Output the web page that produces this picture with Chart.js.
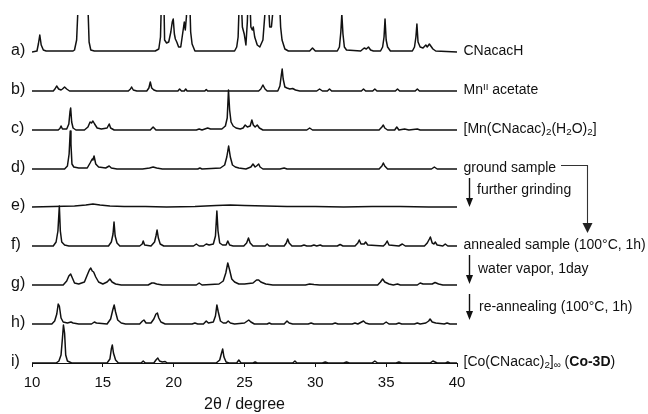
<!DOCTYPE html>
<html>
<head>
<meta charset="utf-8">
<script src="https://cdn.jsdelivr.net/npm/chart.js@4.4.1/dist/chart.umd.min.js"></script>
<style>
  body { margin: 0; background: #fff; }
  #wrap { position: relative; width: 648px; height: 414px; font-family: "Liberation Sans", Arial, sans-serif; color: #111; }
  .lbl { position: absolute; white-space: nowrap; line-height: 1; font-size: 14px; }
  .tag { font-size: 16px; }
  sub, sup { font-size: 70%; line-height: 0; }
  sup { vertical-align: 0.45em; }
  sub { vertical-align: -0.2em; }
</style>
</head>
<body>
<div id="wrap">
  <canvas id="xrd" width="648" height="414"></canvas>
</div>
<script>
// values: [2theta, intensity above the trace baseline]
const xTicks = [10, 15, 20, 25, 30, 35, 40]
const tags = ['a)', 'b)', 'c)', 'd)', 'e)', 'f)', 'g)', 'h)', 'i)']
const names = [
  'CNacacH',
  'Mn<sup>II</sup> acetate',
  '[Mn(CNacac)<sub>2</sub>(H<sub>2</sub>O)<sub>2</sub>]',
  'ground sample',
  '',
  'annealed sample (100°C, 1h)',
  '',
  '',
  '[Co(CNacac)<sub>2</sub>]<sub>∞</sub> (<b>Co-3D</b>)'
]
const steps = ['further grinding', 'water vapor, 1day', 're-annealing (100°C, 1h)']
const offsets = [311, 272, 233, 194, 156, 117, 78, 39, 0]

const traceA = [[10,0],[10.35,1],[10.45,8],[10.55,17],[10.65,7],[10.8,2],[11,1],[12.9,1],[13.0,2],[13.15,12],[13.25,45],[13.4,90],
  [13.6,100],[13.8,90],[13.95,45],[14.03,10],[14.15,2],[14.4,1],[18.7,1],[18.95,3],[19.07,15],[19.15,60],[19.22,70],[19.3,60],
  [19.36,12],[19.5,9],[19.65,10],[19.8,20],[19.9,30],[19.97,33],[20.05,18],[20.12,13],[20.22,10],[20.35,5],[20.5,5],[20.6,15],
  [20.75,30],[20.82,22],[20.9,35],[20.97,60],[21.05,70],[21.12,60],[21.2,20],[21.3,8],[21.5,1],[24.3,1],[24.45,5],[24.55,15],
  [24.65,60],[24.75,60],[24.85,25],[24.98,18],[25.1,7],[25.2,30],[25.28,65],[25.36,60],[25.45,25],[25.55,22],[25.62,25],
  [25.72,15],[25.9,7],[26.08,5],[26.3,12],[26.45,40],[26.55,70],[26.65,60],[26.78,25],[26.9,25],[27.0,40],[27.1,65],[27.3,75],
  [27.45,60],[27.55,25],[27.65,12],[27.85,3],[28.1,1],[29.6,1],[29.8,4],[30.0,1],[31.55,1],[31.7,5],[31.8,20],[31.87,38],
  [31.95,18],[32.05,5],[32.2,2],[33.2,1],[33.45,4],[33.6,3],[33.75,5],[33.9,2],[34.1,1],[34.6,1],[34.75,5],[34.85,15],
  [34.92,33],[35.0,12],[35.1,5],[35.3,1],[36.85,1],[37.0,5],[37.1,15],[37.17,28],[37.25,10],[37.4,5],[37.6,4],[37.8,7],
  [37.9,5],[38.05,8],[38.15,6],[38.3,3],[38.5,1],[40,0]]

const traceB = [[10,0],[11.5,0],[11.62,2],[11.74,5],[11.88,2],[12.05,1],[12.15,2],[12.3,4],[12.45,2],[12.65,0],[16.8,0],[16.95,2],
  [17.03,4],[17.15,1],[17.4,0],[18.1,0],[18.25,3],[18.35,9],[18.45,3],[18.6,1],[18.8,0],[20.3,0],[20.42,2],[20.55,0],[20.75,0],
  [20.85,2],[20.95,0],[22.2,0],[22.3,1.5],[22.4,0],[26.0,0],[26.15,2],[26.3,6],[26.45,2],[26.6,0],[27.35,0],[27.5,5],[27.6,16],
  [27.66,22],[27.73,12],[27.85,4],[28.0,3],[28.2,2],[28.4,2.5],[28.6,1],[28.9,0],[30.1,0],[30.3,2],[30.5,0],[30.85,0],[31.0,2],
  [31.15,0],[33.25,0],[33.4,2],[33.55,0],[34.05,0],[34.2,2],[34.35,0],[35.65,0],[35.8,2],[35.95,0],[37.05,0],[37.2,2],[37.35,0],[40,0]]

const traceC = [[10,0],[11.85,0],[11.97,1.5],[12.05,4],[12.15,1],[12.45,1],[12.6,6],[12.68,18],[12.73,22],[12.8,8],[12.9,2],[13.1,0],
  [13.7,0],[13.95,3],[14.1,8],[14.2,7],[14.3,9],[14.42,6],[14.6,2],[14.9,1],[15.3,2],[15.45,6],[15.55,2],[15.8,0],[18.35,0],
  [18.55,3],[18.75,0],[21.6,0],[21.8,1],[22.0,0],[22.2,1],[22.4,2],[22.6,1],[23.4,1],[23.65,4],[23.78,12],[23.87,40],[23.95,20],
  [24.05,8],[24.2,4],[24.4,2],[24.7,1],[24.9,2],[25.05,5],[25.2,3],[25.4,4],[25.52,10],[25.62,5],[25.75,3],[25.9,5],[26.05,2],
  [26.3,0],[29.4,0],[29.6,2],[29.8,0],[34.5,0],[34.7,3],[34.8,5],[34.9,2],[35.1,0],[35.6,0],[35.75,3],[35.9,0],[36.3,1],
  [36.6,0],[37.2,1],[37.4,0],[40,0]]

const traceD = [[10,0],[12.3,0],[12.5,3],[12.62,15],[12.7,38],[12.75,25],[12.82,5],[12.95,2],[13.3,1],[13.9,1],[14.1,6],[14.25,10],
  [14.3,9],[14.38,13],[14.5,5],[14.7,2],[15.2,1],[15.45,3],[15.6,1],[16.0,0],[17.8,0],[18.3,1],[18.55,2],[18.8,1],[19.2,0],
  [21.7,0],[21.85,1],[22.0,0],[23.3,1],[23.6,4],[23.75,12],[23.88,23],[24.0,12],[24.15,4],[24.35,2],[24.6,1],[25.1,0],[25.45,2],
  [25.6,5],[25.75,2],[25.85,3],[26.0,5],[26.1,2],[26.3,0],[27.5,0],[27.8,1],[28.0,0],[34.5,0],[34.7,3],[34.8,6],[34.9,3],
  [35.1,0],[38.2,0],[38.4,2],[38.6,0],[40,0]]

const traceE = [[10,0],[11.5,0.5],[13.0,1],[13.8,2],[14.3,3],[14.8,2],[15.5,1],[16.5,0.5],[18,0.5],[19.5,0],[21.5,0.5],[23,1.5],
  [24,2],[25,1.5],[26.5,1],[28,0.5],[30,0.5],[32,0],[34,0.5],[36,0.5],[38,0],[40,0]]

const traceF = [[10,0],[11.5,0],[11.7,4],[11.83,15],[11.93,40],[12.0,15],[12.1,4],[12.3,1],[12.6,0],[15.4,0],[15.6,4],[15.72,12],
  [15.79,24],[15.87,10],[16.0,3],[16.2,0],[17.6,0],[17.78,2],[17.85,5],[17.95,1],[18.4,0],[18.65,4],[18.75,10],[18.83,16],
  [18.92,8],[19.05,2],[19.3,0],[21.4,0],[21.6,2],[21.8,0],[22.1,0],[22.3,2],[22.5,1],[22.8,2],[22.95,10],[23.05,35],[23.13,15],
  [23.25,3],[23.45,1],[23.7,1],[23.82,5],[23.95,1],[24.2,0],[24.95,0],[25.15,3],[25.28,8],[25.4,3],[25.6,0],[26.45,0],[26.6,2],
  [26.75,0],[27.8,0],[27.95,3],[28.05,7],[28.15,3],[28.35,0],[29.0,0],[29.2,1],[29.4,0],[29.7,0],[29.9,1],[30.1,0],[30.35,1],
  [30.5,0],[31.55,0],[31.75,1.5],[31.95,0],[32.8,0],[33.0,3],[33.1,6],[33.22,2],[33.45,2],[33.55,4],[33.7,1],[34.8,0],[34.95,2],
  [35.07,5],[35.2,1],[35.9,0],[36.14,2],[36.35,0],[37.7,0],[37.9,3],[38.05,7],[38.12,9],[38.25,3],[38.38,2],[38.46,4],[38.6,1],
  [39.0,0],[39.17,2],[39.35,0],[40,0]]

const traceG = [[10,0],[12.2,0],[12.45,4],[12.6,9],[12.73,11],[12.85,7],[13.0,2],[13.3,1],[13.7,3],[13.9,10],[14.05,15],[14.15,17],
  [14.25,14],[14.35,13],[14.5,8],[14.7,3],[15.0,1],[15.3,3],[15.5,6],[15.65,3],[15.9,1],[16.3,0],[18.2,0],[18.45,2],[18.6,2],
  [18.8,1],[19.2,0],[21.6,0],[21.8,2],[22.0,0],[23.2,1],[23.5,4],[23.68,12],[23.82,22],[23.95,15],[24.1,6],[24.3,3],[24.6,1],
  [25.0,1],[25.6,2],[25.85,5],[26.0,5],[26.15,3],[26.5,1],[27,0],[29.3,0],[29.6,1],[29.9,0.5],[30.3,0],[34.4,0],[34.6,3],
  [34.75,6],[34.9,3],[35.2,1],[35.5,0],[35.8,1],[36.0,0],[37.2,0],[37.4,2],[37.6,1],[38.25,1],[38.45,2.5],[38.7,1],[39.0,0],[40,0]]

const traceH = [[10,0],[11.4,0],[11.6,3],[11.75,10],[11.85,20],[11.93,18],[12.05,6],[12.2,2],[12.5,1],[12.75,2],[12.9,1],[13.3,0],
  [14.2,0],[14.4,2],[14.55,1],[15.3,0],[15.55,5],[15.7,14],[15.8,19],[15.9,12],[16.05,4],[16.3,1],[16.6,0],[17.6,0],[17.8,3],
  [17.9,4],[18.05,1],[18.4,1],[18.6,5],[18.75,10],[18.85,11],[18.95,6],[19.1,2],[19.4,0],[21.3,0],[21.5,1],[21.7,0],[22.1,0],
  [22.3,3],[22.45,1],[22.8,2],[22.95,8],[23.05,19],[23.15,12],[23.3,3],[23.5,1],[23.7,1],[23.85,3],[24.0,1],[24.3,0],[25.0,1],
  [25.2,3],[25.3,4],[25.45,2],[25.7,0],[26.6,0],[26.75,1],[26.9,0],[27.8,0],[28.0,3],[28.15,1],[28.4,0],[29.5,0],[29.7,1],
  [29.9,0],[31.2,0],[31.4,1],[31.6,0],[32.6,0],[32.8,1],[33.0,0],[33.2,1.5],[33.4,3],[33.55,1],[33.8,0],[34.8,0],[35.0,2],
  [35.2,0],[35.7,0],[35.9,1],[36.1,0],[37.0,0],[37.2,1],[37.4,0],[37.8,1],[38.0,3],[38.1,5],[38.25,2],[38.5,1],[39.1,0],
  [39.3,1],[39.5,0],[40,0]]

const traceI = [[10,0],[11.7,0],[11.9,2],[12.05,8],[12.15,25],[12.22,38],[12.3,30],[12.38,8],[12.5,2],[12.8,0],[15.3,0],[15.5,4],
  [15.6,14],[15.67,18],[15.75,10],[15.9,3],[16.1,0],[17.7,0],[17.85,2],[18.0,0],[18.6,0],[18.75,3],[18.88,5],[19.0,2],[19.2,1],
  [19.4,1.5],[19.55,0],[23.0,0],[23.25,3],[23.38,10],[23.46,14],[23.55,6],[23.7,1],[23.9,0],[24.45,0],[24.6,3],[24.75,0],
  [25.6,0],[25.75,1],[25.9,0],[28.4,0],[28.56,2],[28.7,0],[30.5,0],[30.7,1],[30.9,0],[32.0,0],[32.2,1],[32.4,0],[34.0,0],
  [34.2,2],[34.4,0],[35.7,0],[35.9,1],[36.1,0],[38.1,0],[38.3,2],[38.45,1],[38.6,0],[39.2,0],[39.35,1],[39.5,0],[40,0]]

const series = [traceA, traceB, traceC, traceD, traceE, traceF, traceG, traceH, traceI]

const FONT = '"Liberation Sans", Arial, sans-serif'
const INK = '#111'

const datasets = series.map((trace, i) => ({
  data: trace.map(p => ({ x: p[0], y: p[1] + offsets[i] })),
  borderColor: INK,
  borderWidth: 1.5,
  borderJoinStyle: 'round',
  pointRadius: 0,
  tension: 0,
  fill: false
}))

function arrowDown(ctx, x, y1, y2, w, h) {
  ctx.beginPath()
  ctx.moveTo(x, y1)
  ctx.lineTo(x, y2 - h + 1)
  ctx.stroke()
  ctx.beginPath()
  ctx.moveTo(x - w / 2, y2 - h)
  ctx.lineTo(x + w / 2, y2 - h)
  ctx.lineTo(x, y2)
  ctx.closePath()
  ctx.fill()
}

const arrows = {
  id: 'arrows',
  afterDraw(chart) {
    const ctx = chart.ctx
    const area = chart.chartArea
    const yb = i => chart.scales.y.getPixelForValue(offsets[i])
    const x0 = area.right + 12.5
    ctx.save()
    ctx.strokeStyle = INK
    ctx.fillStyle = INK
    ctx.lineWidth = 1.4
    arrowDown(ctx, x0, yb(3) + 9, yb(4), 7, 9)
    arrowDown(ctx, x0, yb(5) + 9, yb(6) - 1, 7, 9)
    arrowDown(ctx, x0, yb(6) + 9, yb(7) - 4, 7, 9)
    // ground sample -> annealed sample
    const ex = area.right + 130.5
    ctx.strokeStyle = '#333'
    ctx.lineWidth = 1.1
    ctx.beginPath()
    ctx.moveTo(area.right + 104, yb(3) - 3.5)
    ctx.lineTo(ex, yb(3) - 3.5)
    ctx.lineTo(ex, yb(5) - 22)
    ctx.stroke()
    ctx.fillStyle = '#222'
    arrowDown(ctx, ex, yb(5) - 22, yb(5) - 13, 10, 10)
    ctx.restore()
  }
}

const chart = new Chart(document.getElementById('xrd'), {
  type: 'line',
  data: { datasets },
  options: {
    responsive: false,
    animation: false,
    events: [],
    layout: { padding: { left: 32, right: 191, top: 15, bottom: 0 } },
    plugins: { legend: { display: false }, tooltip: { enabled: false } },
    scales: {
      x: {
        type: 'linear',
        min: 10,
        max: 40,
        afterBuildTicks: s => { s.ticks = xTicks.map(v => ({ value: v })) },
        afterFit: s => { s.height = 51 },
        ticks: { color: INK, font: { family: FONT, size: 15 }, padding: 7, maxRotation: 0 },
        grid: { drawOnChartArea: false, drawTicks: true, tickLength: 4, color: INK, lineWidth: 1 },
        border: { color: INK, width: 1 },
        title: { display: true, text: '2θ / degree', color: INK, font: { family: FONT, size: 16 }, padding: { top: 0, bottom: 0 } }
      },
      y: { display: false, min: 0, max: 348 }
    }
  },
  plugins: [arrows]
})

// text around the traces
const wrap = document.getElementById('wrap')
function put(html, left, baseline, cls, size) {
  const d = document.createElement('div')
  d.className = 'lbl ' + (cls || '')
  d.innerHTML = html
  d.style.left = left + 'px'
  d.style.top = (baseline - 0.8465 * size) + 'px'
  wrap.appendChild(d)
}
const area = chart.chartArea
const yb = i => chart.scales.y.getPixelForValue(offsets[i])
tags.forEach((t, i) => put(t, 11, yb(i) + 4, 'tag', 16))
names.forEach((n, i) => { if (n) put(n, area.right + 6.5, yb(i) + 3, '', 14) })
put(steps[0], area.right + 20, yb(3) + 25, '', 14)
put(steps[1], area.right + 21, yb(5) + 27, '', 14)
put(steps[2], area.right + 22, yb(6) + 26, '', 14)
</script>
</body>
</html>
